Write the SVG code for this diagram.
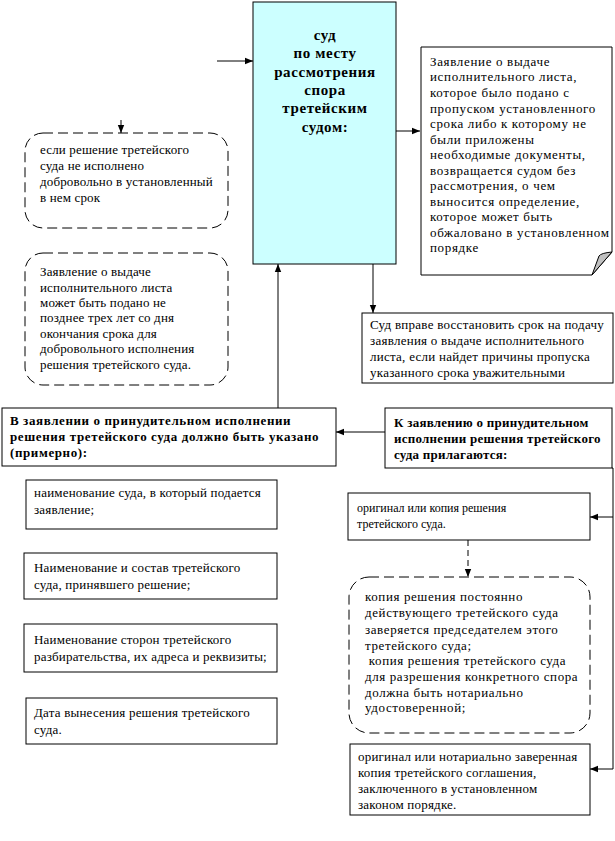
<svg xmlns="http://www.w3.org/2000/svg" width="615" height="841" viewBox="0 0 615 841">
<style>
text{font-family:"Liberation Serif","Times New Roman",serif;font-size:13px;fill:#000;letter-spacing:0.2px}
.b{font-weight:bold;letter-spacing:0.6px}
.a{font-weight:bold;letter-spacing:0.25px}
.m{font-weight:bold;font-size:15px;text-anchor:middle;letter-spacing:0.6px}
.n{letter-spacing:0.66px}
.c{letter-spacing:0.15px}
.r{letter-spacing:0.26px}
.o{font-size:12px;letter-spacing:0}
.k{letter-spacing:0.6px}
.box{fill:#fff;stroke:#000;stroke-width:1}
.dbox{fill:#fff;stroke:#000;stroke-width:1;stroke-dasharray:10 5}
.ln{fill:none;stroke:#000;stroke-width:1}
.dl{fill:none;stroke:#000;stroke-width:1;stroke-dasharray:6 4}
</style>
<defs>
<marker id="ah" viewBox="0 0 10 10" refX="10" refY="5" markerWidth="8" markerHeight="8" orient="auto" markerUnits="userSpaceOnUse">
<path d="M0,1 L10,5 L0,9 Z" fill="#000"/>
</marker>
</defs>
<rect width="615" height="841" fill="#fff"/>
<g id="connectors">
<line class="ln" x1="217" y1="61" x2="253" y2="61" marker-end="url(#ah)"/>
<line class="ln" x1="396" y1="131" x2="420" y2="131" marker-end="url(#ah)"/>
<line class="dl" x1="121" y1="120" x2="121" y2="133" marker-end="url(#ah)"/>
<line class="ln" x1="373" y1="264" x2="373" y2="313" marker-end="url(#ah)"/>
<line class="ln" x1="278" y1="408" x2="278" y2="264" marker-end="url(#ah)"/>
<line class="ln" x1="385" y1="432" x2="336" y2="432" marker-end="url(#ah)"/>
<polyline class="ln" points="612,468 613,468 613,769"/>
<line class="ln" x1="613" y1="517" x2="590" y2="517" marker-end="url(#ah)"/>
<line class="ln" x1="613" y1="769" x2="590" y2="769" marker-end="url(#ah)"/>
<line class="dl" x1="468" y1="540" x2="468" y2="577" marker-end="url(#ah)"/>
</g>
<g id="main">
<rect x="253" y="2" width="143" height="262" fill="#ccffff" stroke="#000"/>
<text class="m" x="325" y="40">суд</text>
<text class="m" x="325" y="58">по месту</text>
<text class="m" x="325" y="77">рассмотрения</text>
<text class="m" x="325" y="95">спора</text>
<text class="m" x="325" y="113">третейским</text>
<text class="m" x="325" y="132">судом:</text>
</g>
<g id="note">
<path class="box" d="M421,47 H612 V252 L592,275 H421 Z"/>
<path d="M612,252 Q601,253 599,256 L592,275 Z" fill="#c0c0c0" stroke="#000"/>
<text class="n" x="430" y="66">Заявление о выдаче</text>
<text class="n" x="430" y="81">исполнительного листа,</text>
<text class="n" x="430" y="97">которое было подано с</text>
<text class="n" x="430" y="113">пропуском установленного</text>
<text class="n" x="430" y="128">срока либо к которому не</text>
<text class="n" x="430" y="144">были приложены</text>
<text class="n" x="430" y="159">необходимые документы,</text>
<text class="n" x="430" y="175">возвращается судом без</text>
<text class="n" x="430" y="190">рассмотрения, о чем</text>
<text class="n" x="430" y="206">выносится определение,</text>
<text class="n" x="430" y="221">которое может быть</text>
<text class="n" x="430" y="237">обжаловано в установленном</text>
<text class="n" x="430" y="252">порядке</text>
</g>
<g id="cond">
<rect class="dbox" x="25" y="133" width="203" height="95" rx="18"/>
<text class="c" x="40" y="154">если решение третейского</text>
<text class="c" x="40" y="170">суда не исполнено</text>
<text class="c" x="40" y="186">добровольно в установленный</text>
<text class="c" x="40" y="202">в нем срок</text>
</g>
<g id="term">
<rect class="dbox" x="25" y="253" width="203" height="132" rx="18"/>
<text class="c" x="40" y="276">Заявление о выдаче</text>
<text class="c" x="40" y="292">исполнительного листа</text>
<text class="c" x="40" y="307">может быть подано не</text>
<text class="c" x="40" y="322">позднее трех лет со дня</text>
<text class="c" x="40" y="338">окончания срока для</text>
<text class="c" x="40" y="353">добровольного исполнения</text>
<text class="c" x="40" y="369">решения третейского суда.</text>
</g>
<g id="restore">
<rect class="box" x="362" y="313" width="251" height="70"/>
<text class="r" x="370" y="329">Суд вправе восстановить срок на подачу</text>
<text class="r" x="370" y="345">заявления о выдаче исполнительного</text>
<text class="r" x="370" y="361">листа, если найдет причины пропуска</text>
<text class="r" x="370" y="377">указанного срока уважительными</text>
</g>
<g id="content">
<rect class="box" x="2" y="408" width="334" height="58"/>
<text class="b" x="10" y="425">В заявлении о принудительном исполнении</text>
<text class="b" x="10" y="441">решения третейского суда должно быть указано</text>
<text class="b" x="10" y="457">(примерно):</text>
</g>
<g id="attach">
<rect class="box" x="385" y="408" width="227" height="60"/>
<text class="a" x="394" y="427">К заявлению о принудительном</text>
<text class="a" x="394" y="443">исполнении решения третейского</text>
<text class="a" x="394" y="459">суда прилагаются:</text>
</g>
<g id="item1">
<rect class="box" x="26" y="480" width="251" height="49"/>
<text x="34" y="497">наименование суда, в который подается</text>
<text x="34" y="514">заявление;</text>
</g>
<g id="item2">
<rect class="box" x="24" y="553" width="253" height="46"/>
<text x="34" y="572">Наименование и состав третейского</text>
<text x="34" y="589">суда, принявшего решение;</text>
</g>
<g id="item3">
<rect class="box" x="24" y="624" width="253" height="48"/>
<text x="34" y="644">Наименование сторон третейского</text>
<text x="34" y="661">разбирательства, их адреса и реквизиты;</text>
</g>
<g id="item4">
<rect class="box" x="26" y="698" width="251" height="46"/>
<text x="34" y="717">Дата вынесения решения третейского</text>
<text x="34" y="734">суда.</text>
</g>
<g id="orig">
<rect class="box" x="348" y="493" width="242" height="47"/>
<text class="o" x="357" y="512">оригинал или копия решения</text>
<text class="o" x="357" y="528">третейского суда.</text>
</g>
<g id="copy">
<rect class="dbox" x="349" y="577" width="241" height="156" rx="20"/>
<text class="k" x="365" y="601">копия решения постоянно</text>
<text class="k" x="365" y="617">действующего третейского суда</text>
<text class="k" x="365" y="634">заверяется председателем этого</text>
<text class="k" x="365" y="650">третейского суда;</text>
<text class="k" x="365" y="665" xml:space="preserve"> копия решения третейского суда</text>
<text class="k" x="365" y="681">для разрешения конкретного спора</text>
<text class="k" x="365" y="697">должна быть нотариально</text>
<text class="k" x="365" y="712">удостоверенной;</text>
</g>
<g id="agreement">
<rect class="box" x="350" y="744" width="240" height="71"/>
<text x="358" y="761">оригинал или нотариально заверенная</text>
<text x="358" y="777">копия третейского соглашения,</text>
<text x="358" y="793">заключенного в установленном</text>
<text x="358" y="809">законом порядке.</text>
</g>
</svg>
